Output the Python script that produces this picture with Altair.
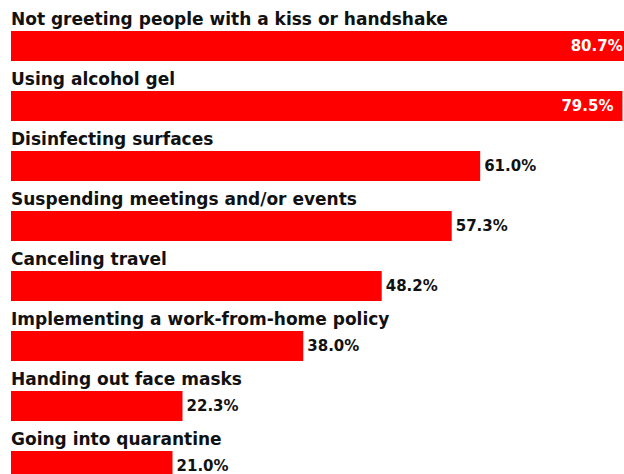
import altair as alt
import pandas as pd

categories = [
    "Not greeting people with a kiss or handshake",
    "Using alcohol gel",
    "Disinfecting surfaces",
    "Suspending meetings and/or events",
    "Canceling travel",
    "Implementing a work-from-home policy",
    "Handing out face masks",
    "Going into quarantine",
]
values = [80.7, 79.5, 61.0, 57.3, 48.2, 38.0, 22.3, 21.0]
value_labels = ["80.7%", "79.5%", "61.0%", "57.3%", "48.2%", "38.0%", "22.3%", "21.0%"]
label_inside = [True, True, False, False, False, False, False, False]

df = pd.DataFrame({
    "cat": categories,
    "value": values,
    "label": value_labels,
    "inside": label_inside,
})

FONT = "DejaVu Sans"

y = alt.Y("cat:N", sort=categories, axis=None,
          scale=alt.Scale(range=[0, 480], paddingInner=0, paddingOuter=0))
x = alt.X("value:Q", axis=None,
          scale=alt.Scale(domain=[0, 79.7], nice=False, zero=True))

base = alt.Chart(df)

bars = base.mark_bar(color="#ff0000", size=30, yOffset=16, clip=True).encode(x=x, y=y)

cat_text = base.mark_text(
    align="left", baseline="alphabetic", dy=-5, font=FONT, fontSize=17,
    fontWeight="bold", color="#111111"
).encode(x=alt.value(0), y=y, text="cat:N")

inside_text = base.transform_filter("datum.inside").mark_text(
    align="right", baseline="middle", dx=-9, dy=16, font=FONT, fontSize=15,
    fontWeight="bold", color="#ffffff"
).encode(x=x, y=y, text="label:N")

outside_text = base.transform_filter("!datum.inside").mark_text(
    align="left", baseline="middle", dx=4, dy=16, font=FONT, fontSize=15,
    fontWeight="bold", color="#111111"
).encode(x=x, y=y, text="label:N")

chart = alt.layer(bars, cat_text, inside_text, outside_text).properties(
    width=613, height=474,
    autosize=alt.AutoSizeParams(type="none"),
    padding={"left": 11, "top": 0, "right": 0, "bottom": 0},
).configure_view(stroke=None)

chart.save("out.html", embed_options={"renderer": "svg", "actions": False})
